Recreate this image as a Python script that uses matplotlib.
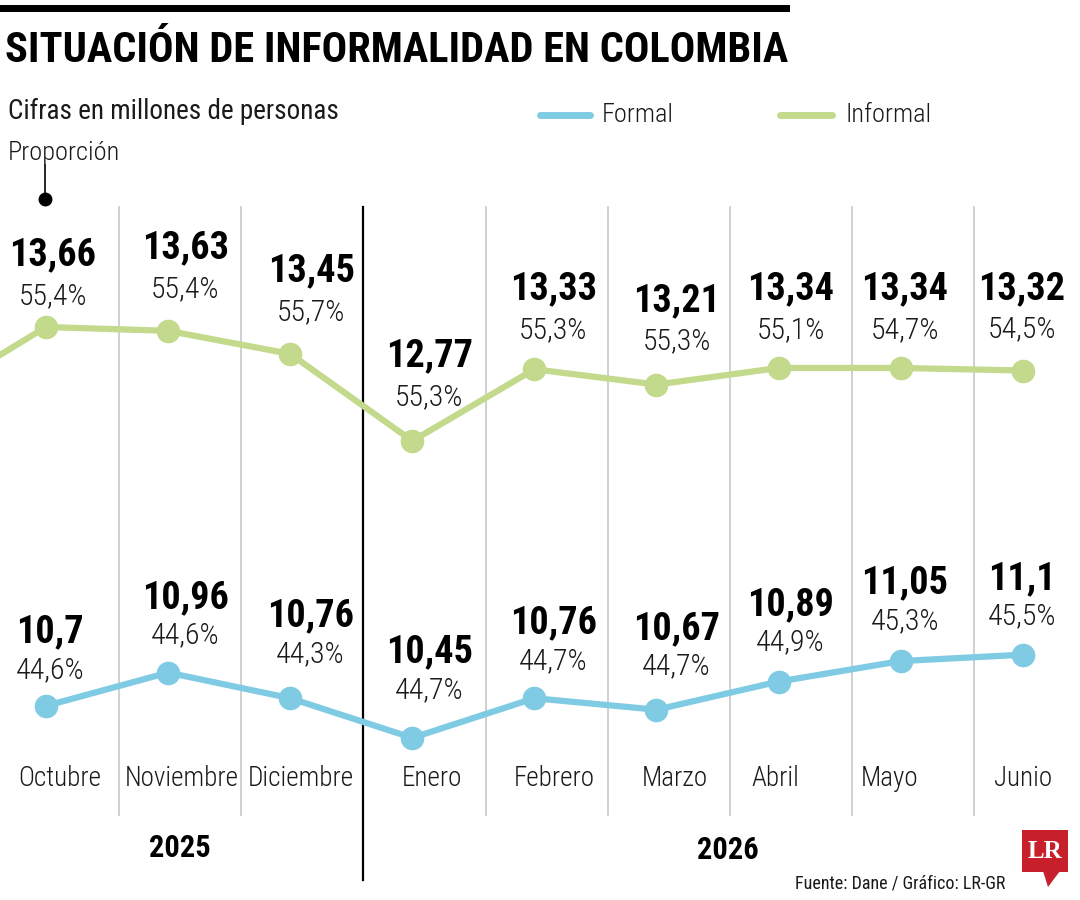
import matplotlib
matplotlib.use("Agg")
import matplotlib.pyplot as plt
from matplotlib.patches import Rectangle, Polygon

plt.rcParams["font.family"] = ["Roboto Condensed", "DejaVu Sans"]

# data
meses = ["Octubre", "Noviembre", "Diciembre", "Enero", "Febrero", "Marzo", "Abril", "Mayo", "Junio"]
informal = [13.66, 13.63, 13.45, 12.77, 13.33, 13.21, 13.34, 13.34, 13.32]
informal_pct = [55.4, 55.4, 55.7, 55.3, 55.3, 55.3, 55.1, 54.7, 54.5]
formal = [10.7, 10.96, 10.76, 10.45, 10.76, 10.67, 10.89, 11.05, 11.1]
formal_pct = [44.6, 44.6, 44.3, 44.7, 44.7, 44.7, 44.9, 45.3, 45.5]
informal_sep = 13.08  # previous month, only the segment entering from the left
anios = ["2025", "2026"]

GREEN = "#c3d98b"
BLUE = "#80cbe4"
GRID = "#c8c8c8"
TXT = "#1a1a1a"

W, H = 1080, 900
fig = plt.figure(figsize=(W / 100, H / 100), dpi=100)
ax = fig.add_axes([0, 0, 1, 1])
# 128 px per million, Octubre at x=46 px, step 122 px
Y_TOP = 13.66 + 327 / 128
ax.set_xlim(-46 / 122.1, (W - 46) / 122.1)
ax.set_ylim(13.66 - (H - 327) / 128, Y_TOP)
ax.axis("off")


def yy(pix):
    return Y_TOP - pix / 128


def fmt(v, dec=None):
    s = f"{v:.{dec}f}" if dec is not None else f"{v:g}"
    return s.replace(".", ",")


def px(x, y):
    # pixel (from top-left) -> figure fraction
    return x / W, 1 - y / H


xs = list(range(len(meses)))

# grid between months, black divider between years
for i in range(len(meses) - 1):
    gx = i + 0.6
    if i == 2:
        ax.plot([gx, gx], [yy(207), yy(880)], color="black", lw=1.6, zorder=1)
    else:
        ax.plot([gx, gx], [yy(207), yy(815)], color=GRID, lw=1.2, zorder=1)

# lines
ax.plot([-1] + xs, [informal_sep] + informal, color=GREEN, lw=4.5, marker="o",
        markersize=16, zorder=3)
ax.plot(xs, formal, color=BLUE, lw=4.5, marker="o", markersize=16, zorder=3)

inf_dx = [7, 17, 21, 17, 19, 20, 12, 4, -1]
inf_dy = [72, 83, 83, 85, 80, 84, 79, 79, 82]
for i, (v, p) in enumerate(zip(informal, informal_pct)):
    ax.annotate(fmt(v), (i, v), xytext=(inf_dx[i], inf_dy[i]), textcoords="offset pixels",
                ha="center", va="center", fontsize=27.5, fontweight="bold", color="black")
    ax.annotate(fmt(p, 1) + "%", (i, v), xytext=(inf_dx[i], inf_dy[i] - 41),
                textcoords="offset pixels", ha="center", va="center", fontsize=21.5,
                fontweight="light", color=TXT)

for_dx = [4, 17, 20, 17, 19, 20, 12, 4, -1]
for_dy = [74, 75, 82, 86, 75, 81, 77, 78, 76]
for i, (v, p) in enumerate(zip(formal, formal_pct)):
    ax.annotate(fmt(v), (i, v), xytext=(for_dx[i], for_dy[i]), textcoords="offset pixels",
                ha="center", va="center", fontsize=27.5, fontweight="bold", color="black")
    ax.annotate(fmt(p, 1) + "%", (i, v), xytext=(for_dx[i], for_dy[i] - 38),
                textcoords="offset pixels", ha="center", va="center", fontsize=21.5,
                fontweight="light", color=TXT)

# month labels
mes_dx = [0.11, 0.11, 0.09, 0.16, 0.16, 0.15, -0.03, -0.09, 0.0]
for i, m in enumerate(meses):
    ax.text(i + mes_dx[i], yy(779), m, ha="center", va="center",
            fontsize=19.5, fontweight="light", color=TXT)

# years
fig.text(*px(180, 848), anios[0], ha="center", va="center", fontsize=22, fontweight="bold")
fig.text(*px(728, 850), anios[1], ha="center", va="center", fontsize=22, fontweight="bold")

# header
fig.add_artist(Rectangle(px(0, 12), 790 / W, 7 / H, transform=fig.transFigure,
                         color="black", lw=0))
fig.text(*px(5, 50), "SITUACIÓN DE INFORMALIDAD EN COLOMBIA", ha="left", va="center",
         fontsize=30.5, fontweight="bold")
fig.text(*px(8, 111), "Cifras en millones de personas", ha="left", va="center",
         fontsize=19.5, color=TXT)
fig.text(*px(8, 153), "Proporción", ha="left", va="center", fontsize=19,
         fontweight="light", color=TXT)

# callout
fig.add_artist(plt.Line2D([45 / W, 45 / W], [1 - 165 / H, 1 - 199 / H], color="black", lw=1.2))
fig.add_artist(plt.Line2D([45 / W], [1 - 199 / H], marker="o", markersize=9, color="black"))

# legend
fig.add_artist(plt.Line2D([540 / W, 590 / W], [1 - 115 / H] * 2, color=BLUE, lw=5,
                          solid_capstyle="round"))
fig.text(*px(602, 115), "Formal", ha="left", va="center", fontsize=19,
         fontweight="light", color=TXT)
fig.add_artist(plt.Line2D([780 / W, 832 / W], [1 - 115 / H] * 2, color=GREEN, lw=5,
                          solid_capstyle="round"))
fig.text(*px(845, 115), "Informal", ha="left", va="center", fontsize=19,
         fontweight="light", color=TXT)

# source and logo
fig.text(*px(1005, 883), "Fuente: Dane / Gráfico: LR-GR", ha="right", va="center",
         fontsize=13, color=TXT)
fig.add_artist(Rectangle(px(1022, 872), 46 / W, 42 / H, transform=fig.transFigure,
                         color="#c8202a", lw=0))
fig.add_artist(Polygon([px(1043, 871), px(1060, 871), px(1048, 887)], closed=True,
                       transform=fig.transFigure, color="#c8202a", lw=0))
fig.text(*px(1045, 851), "LR", ha="center", va="center", fontsize=18, fontweight="bold",
         color="white", family=["Liberation Serif", "DejaVu Serif"])

fig.savefig("out.png", dpi=100, facecolor="white")
